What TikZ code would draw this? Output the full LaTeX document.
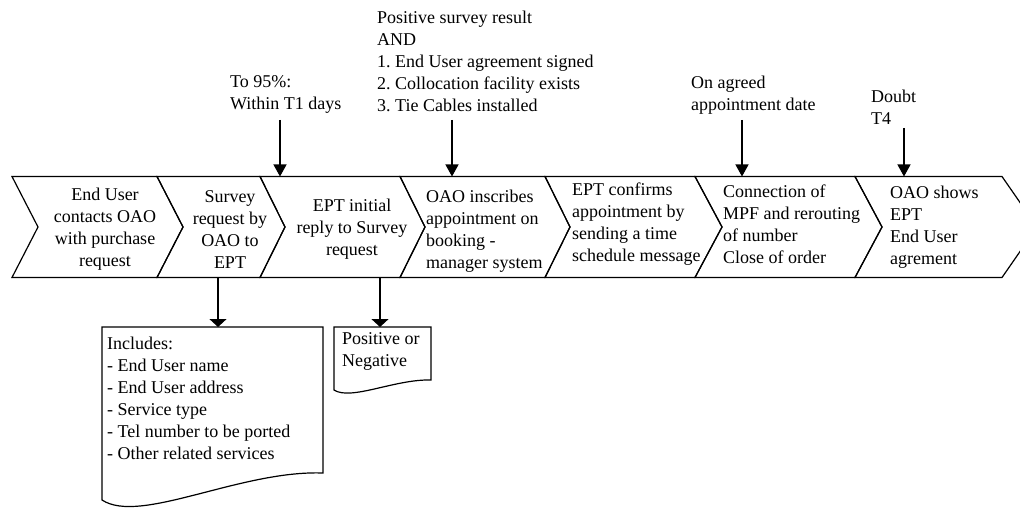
\documentclass[tikz,border=0pt]{standalone}
\usepackage{fontspec}
\setmainfont{Liberation Serif}
\usetikzlibrary{arrows.meta}
\begin{document}
\begin{tikzpicture}[x=1pt,y=-1pt,
  every node/.style={font=\rmfamily\fontsize{18}{22}\selectfont, inner sep=0pt},
  outline/.style={draw=black, line width=1.2pt, line join=miter},
  downarrow/.style={draw=black, line width=1.2pt, -{Triangle[width=13pt,length=12pt]}},
  docarrow/.style={draw=black, line width=1.2pt, -{Triangle[width=17pt,length=8pt]}},
  ctext/.style={align=center, anchor=center},
  ltext/.style={align=left, anchor=west}]
\useasboundingbox (0,0) rectangle (1020,508);
\clip (0,0) rectangle (1020,508);
\def\T{176.5}\def\B{277.5}\def\M{227}
% chevrons
\draw[outline] (12,\T)--(157,\T)--(183,\M)--(157,\B)--(12,\B)--(38,\M)--cycle;
\draw[outline] (157,\T)--(260,\T)--(285,\M)--(260,\B)--(157,\B)--(183,\M)--cycle;
\draw[outline] (260,\T)--(400,\T)--(425,\M)--(400,\B)--(260,\B)--(285,\M)--cycle;
\draw[outline] (400,\T)--(545,\T)--(570,\M)--(545,\B)--(400,\B)--(425,\M)--cycle;
\draw[outline] (545,\T)--(695,\T)--(722,\M)--(695,\B)--(545,\B)--(570,\M)--cycle;
\draw[outline] (695,\T)--(855,\T)--(882,\M)--(855,\B)--(695,\B)--(722,\M)--cycle;
\draw[outline] (855,\T)--(1002,\T)--(1037,\M)--(1002,\B)--(855,\B)--(882,\M)--cycle;
% chevron texts
\node[ctext] (c1) at (105,229.5) {End User\\contacts OAO\\with purchase\\request};
\node[ctext] (c2) at (230,229.5) {Survey\\request by\\OAO to\\EPT};
\node[ctext] (c3) at (352,229.5) {EPT initial\\reply to Survey\\request};
\node[ltext] (c4) at (426,231) {OAO inscribes\\appointment on\\booking -\\manager system};
\node[ltext] (c5) at (572,224) {EPT confirms\\appointment by\\sending a time\\schedule message};
\node[ltext] (c6) at (723,224) {Connection of\\MPF and rerouting\\of number\\Close of order};
\node[ltext] (c7) at (890,227.5) {OAO shows\\EPT\\End User\\agrement};
% top labels
\node[ltext] (l1) at (230,94.5) {To 95\%:\\Within T1 days};
\node[ltext] (l2) at (377,61) {Positive survey result\\AND\\1.\ End User agreement signed\\2.\ Collocation facility exists\\3.\ Tie Cables installed};
\node[ltext] (l3) at (691,95.5) {On agreed\\appointment date};
\node[ltext] (l4) at (871,107) {Doubt\\T4};
% top arrows
\coordinate (s1) at (280,120); \coordinate (e1) at (280,\T);
\coordinate (s2) at (452,120); \coordinate (e2) at (452,\T);
\coordinate (s3) at (742,120); \coordinate (e3) at (742,\T);
\coordinate (s4) at (904,128); \coordinate (e4) at (904,\T);
\draw[downarrow] (s1) -- (e1);
\draw[downarrow] (s2) -- (e2);
\draw[downarrow] (s3) -- (e3);
\draw[downarrow] (s4) -- (e4);
% documents
\draw[outline] (102,327) -- (323,327) -- (323,473) .. controls (240,470) and (140,525) .. (102,500) -- cycle;
\draw[outline] (334,327) -- (431,327) -- (431,380) .. controls (395,379) and (351,401) .. (334,390) -- cycle;
\node[ltext] (d1) at (107,398.5) {Includes:\\- End User name\\- End User address\\- Service type\\- Tel number to be ported\\- Other related services};
\node[ltext] (d2) at (342,351) {Positive or\\Negative};
% bottom arrows
\coordinate (b1) at (218,\B); \coordinate (t1) at (218,327);
\coordinate (b2) at (380,\B); \coordinate (t2) at (380,327);
\draw[docarrow] (b1) -- (t1);
\draw[docarrow] (b2) -- (t2);
\end{tikzpicture}
\end{document}
